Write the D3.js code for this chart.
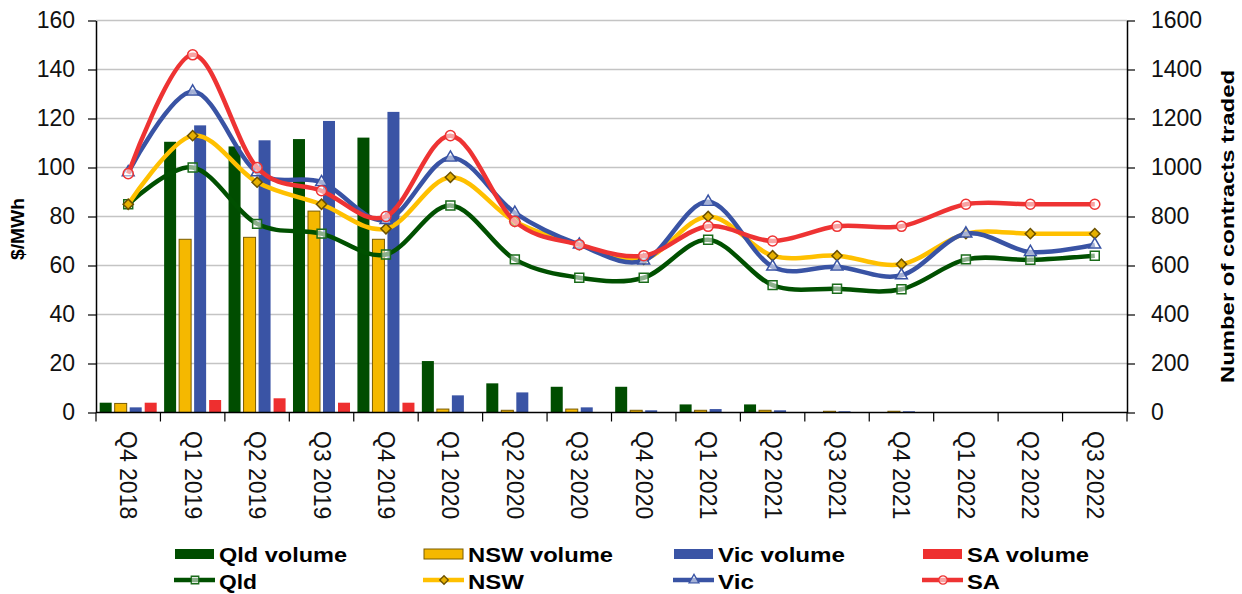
<!DOCTYPE html>
<html><head><meta charset="utf-8">
<script src="https://cdn.jsdelivr.net/npm/d3@7"></script>
<style>
html,body{margin:0;padding:0;background:#fff;}
svg{display:block;font-family:"Liberation Sans",Arial,sans-serif;}
</style></head>
<body>
<svg id="chart" width="1242" height="594"></svg>
<script>
const categories = ["Q4 2018","Q1 2019","Q2 2019","Q3 2019","Q4 2019","Q1 2020","Q2 2020","Q3 2020","Q4 2020","Q1 2021","Q2 2021","Q3 2021","Q4 2021","Q1 2022","Q2 2022","Q3 2022"];

const qldVolume = [40, 1105, 1086, 1116, 1122, 210, 119, 105, 105, 33, 33, 0, 0, 0, 0, 0];
const nswVolume = [37, 707, 715, 822, 707, 14, 9, 14, 9, 9, 9, 5, 5, 0, 0, 0];
const vicVolume = [21, 1172, 1111, 1190, 1227, 70, 82, 21, 9, 14, 9, 5, 5, 0, 0, 0];
const saVolume  = [40, 51, 58, 40, 40, 0, 0, 0, 0, 0, 0, 0, 0, 0, 0, 0];

const qldPrice = [85, 100, 77, 73, 64.5, 84.5, 62.5, 55, 55, 70.5, 52, 50.5, 50.3, 62.5, 62.3, 64];
const nswPrice = [85, 113, 94, 85, 75, 96, 78, 68.5, 62.5, 80, 64, 64, 60.5, 73, 73, 73];
const vicPrice = [98, 131, 98, 94, 78.5, 104, 81.5, 68.5, 62, 86, 59.5, 59.5, 56, 73, 65.5, 68.5];
const saPrice  = [97.5, 146, 100, 90.5, 80, 113, 78, 68.5, 64, 76, 70, 76, 76, 85, 85, 85];

const leftTicks = [0,20,40,60,80,100,120,140,160];
const rightTicks = [0,200,400,600,800,1000,1200,1400,1600];

const svg = d3.select("#chart");
const L = 96, R = 1127, T = 20.5, B = 412.5;

const x = d3.scaleBand().domain(categories).range([L, R]).padding(0);
const y = d3.scaleLinear().domain([0,160]).range([B, T]);
const y2 = d3.scaleLinear().domain([0,1600]).range([B, T]);

const bw = x.bandwidth();
const keys = ["qld","nsw","vic","sa"];
const sub = d3.scaleBand().domain(keys).range([bw*0.057, bw*0.942]).paddingInner(0.2).paddingOuter(0);

// gridlines
svg.append("g").selectAll("line").data(leftTicks.filter(d=>d>0)).join("line")
  .attr("x1", L).attr("x2", R).attr("y1", d=>y(d)).attr("y2", d=>y(d))
  .attr("stroke", "#c4c4c4").attr("stroke-width", 1.5);

// bars
const volSeries = [
  {key:"qld", vals:qldVolume, fill:"#004d00", stroke:"none"},
  {key:"nsw", vals:nswVolume, fill:"#f5b800", stroke:"#7a5c00"},
  {key:"vic", vals:vicVolume, fill:"#3a54a5", stroke:"none"},
  {key:"sa",  vals:saVolume,  fill:"#ee2f2f", stroke:"none"}
];
volSeries.forEach(s => {
  svg.append("g").selectAll("rect").data(s.vals.map((v,i)=>({v, c:categories[i]}))).join("rect")
    .filter(d => d.v > 0)
    .attr("x", d => x(d.c) + sub(s.key))
    .attr("width", sub.bandwidth())
    .attr("y", d => y2(d.v))
    .attr("height", d => B - y2(d.v))
    .attr("fill", s.fill)
    .attr("stroke", s.stroke)
    .attr("stroke-width", s.stroke === "none" ? 0 : 1);
});

// lines
const priceSeries = [
  {name:"Qld", vals:qldPrice, color:"#005000", sym:d3.symbolSquare, size:80, rot:0, mfill:"#ffffff", mstroke:"#1a6b1a", mfo:0.55},
  {name:"NSW", vals:nswPrice, color:"#ffc000", sym:d3.symbolSquare, size:52, rot:45, mfill:"#e6b000", mstroke:"#6b5000", mfo:1},
  {name:"Vic", vals:vicPrice, color:"#3953a4", sym:d3.symbolTriangle, size:60, rot:0, mfill:"#ffffff", mstroke:"#3953a4", mfo:0.55},
  {name:"SA",  vals:saPrice,  color:"#ee3333", sym:d3.symbolCircle, size:80, rot:0, mfill:"#ffffff", mstroke:"#ee3333", mfo:0.55}
];
const line = d3.line().x((d,i)=>x(categories[i]) + bw/2).y(d=>y(d)).curve(d3.curveCardinal.tension(0));
priceSeries.forEach(s => {
  const g = svg.append("g");
  g.append("path").attr("d", line(s.vals)).attr("fill","none")
    .attr("stroke", s.color).attr("stroke-width", 4.5).attr("stroke-linejoin","round");
  g.selectAll("path.m").data(s.vals).join("path").attr("class","m")
    .attr("transform", (d,i)=>`translate(${x(categories[i]) + bw/2},${y(d)}) rotate(${s.rot})`)
    .attr("d", d3.symbol().type(s.sym).size(s.size))
    .attr("fill", s.mfill).attr("fill-opacity", s.mfo)
    .attr("stroke", s.mstroke).attr("stroke-width", 1.5);
});

// axes
const tickFont = "23px";
const la = svg.append("g").attr("transform", `translate(${L},0)`)
  .call(d3.axisLeft(y).tickValues(leftTicks).tickFormat(d3.format("d")).tickSize(8).tickPadding(13).tickSizeOuter(0));
la.select(".domain").attr("stroke","#000").attr("stroke-width",1.5);
la.selectAll(".tick line").attr("stroke","#000").attr("stroke-width",1.2);
la.selectAll("text").attr("font-size", tickFont).attr("fill","#111").attr("font-family","Liberation Sans, Arial");

const ra = svg.append("g").attr("transform", `translate(${R},0)`)
  .call(d3.axisRight(y2).tickValues(rightTicks).tickFormat(d3.format("d")).tickSize(8).tickPadding(16).tickSizeOuter(0));
ra.select(".domain").attr("stroke","#000").attr("stroke-width",1.5);
ra.selectAll(".tick line").attr("stroke","#000").attr("stroke-width",1.2);
ra.selectAll("text").attr("font-size", tickFont).attr("fill","#111").attr("font-family","Liberation Sans, Arial");

// bottom axis
svg.append("line").attr("x1",L).attr("x2",R).attr("y1",B).attr("y2",B).attr("stroke","#000").attr("stroke-width",1.5);
const bounds = categories.map(c=>x(c)).concat([R]);
svg.append("g").selectAll("line").data(bounds).join("line")
  .attr("x1",d=>d).attr("x2",d=>d).attr("y1",B).attr("y2",B+9)
  .attr("stroke","#000").attr("stroke-width",1.2);
svg.append("g").selectAll("text").data(categories).join("text")
  .attr("transform", d=>`translate(${x(d)+bw/2},431) rotate(90)`)
  .attr("text-anchor","start").attr("dominant-baseline","central")
  .attr("font-size", tickFont).attr("fill","#111").text(d=>d);

// axis titles
svg.append("text").attr("transform","translate(17,229) rotate(-90)")
  .attr("text-anchor","middle").attr("dominant-baseline","central")
  .attr("font-weight","bold").attr("font-size","19px")
  .attr("textLength",62).attr("lengthAdjust","spacingAndGlyphs").text("$/MWh");
svg.append("text").attr("transform","translate(1227,226.5) rotate(-90)")
  .attr("text-anchor","middle").attr("dominant-baseline","central")
  .attr("font-weight","bold").attr("font-size","19px")
  .attr("textLength",313).attr("lengthAdjust","spacingAndGlyphs").text("Number of contracts traded");

// legend
const legendX = [175, 424, 674, 923];
const volLen = [128, 145, 127, 122];
const lineLen = [38, 56, 36, 33];
const volNames = ["Qld volume","NSW volume","Vic volume","SA volume"];
const lg = svg.append("g");
volSeries.forEach((s,i)=>{
  const lx = legendX[i];
  lg.append("rect").attr("x",lx).attr("y",549).attr("width",39).attr("height",10)
    .attr("fill",s.fill).attr("stroke",s.stroke).attr("stroke-width",s.stroke==="none"?0:1);
  lg.append("text").attr("x",lx+44).attr("y",562).attr("font-weight","bold").attr("font-size","21px")
    .attr("textLength",volLen[i]).attr("lengthAdjust","spacingAndGlyphs").text(volNames[i]);
});
priceSeries.forEach((s,i)=>{
  const lx = legendX[i];
  lg.append("line").attr("x1",lx-1).attr("x2",lx+40).attr("y1",580).attr("y2",580)
    .attr("stroke",s.color).attr("stroke-width",4.5);
  lg.append("path").attr("transform",`translate(${lx+20},580) rotate(${s.rot})`)
    .attr("d", d3.symbol().type(s.sym).size(s.size*0.7))
    .attr("fill", s.mfill).attr("fill-opacity", s.mfo).attr("stroke", s.mstroke).attr("stroke-width",1.3);
  lg.append("text").attr("x",lx+44).attr("y",589).attr("font-weight","bold").attr("font-size","21px")
    .attr("textLength",lineLen[i]).attr("lengthAdjust","spacingAndGlyphs").text(s.name);
});
</script>
</body></html>
